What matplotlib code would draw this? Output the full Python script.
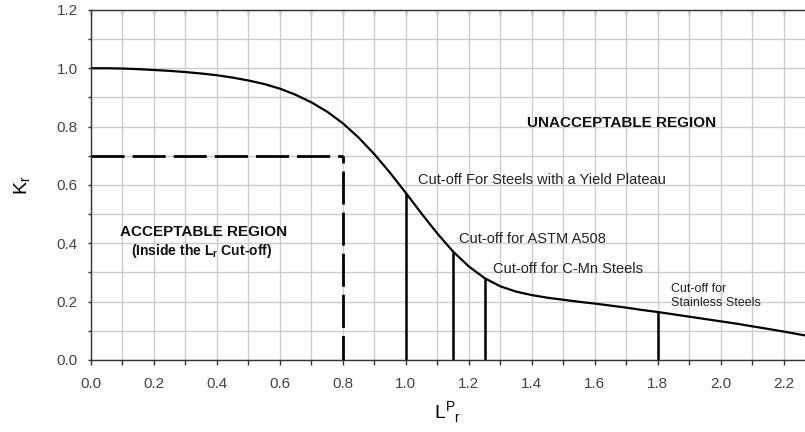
import matplotlib
matplotlib.use("Agg")
import matplotlib.pyplot as plt
from matplotlib.ticker import MultipleLocator, FormatStrFormatter

plt.rcParams['font.family'] = ['Liberation Sans', 'DejaVu Sans']

# failure assessment curve
lr = [0.00, 0.05, 0.10, 0.15, 0.20, 0.25, 0.30, 0.35, 0.40, 0.45,
      0.50, 0.55, 0.60, 0.65, 0.70, 0.75, 0.80, 0.85, 0.90, 0.95,
      1.00, 1.05, 1.10, 1.15, 1.20, 1.25, 1.30, 1.35, 1.40, 1.45,
      1.50, 1.55, 1.60, 1.65, 1.70, 1.75, 1.80, 1.85, 1.90, 1.95,
      2.00, 2.05, 2.10, 2.15, 2.20, 2.25, 2.30]
kr = [1.000, 1.000, 0.999, 0.997, 0.994, 0.991, 0.987, 0.982, 0.976, 0.968,
      0.958, 0.946, 0.930, 0.909, 0.883, 0.851, 0.811, 0.762, 0.705, 0.641,
      0.572, 0.501, 0.433, 0.371, 0.320, 0.280, 0.252, 0.234, 0.222, 0.213,
      0.206, 0.199, 0.193, 0.186, 0.179, 0.171, 0.164, 0.156, 0.148, 0.140,
      0.132, 0.124, 0.115, 0.106, 0.097, 0.087, 0.078]

# cut-off lines (Lr position, height where they meet the curve)
cutoff_lr = [1.00, 1.15, 1.25, 1.80]
cutoff_kr = [0.572, 0.371, 0.280, 0.164]

# dashed acceptance box corner
box_lr = 0.8
box_kr = 0.7

fig = plt.figure(figsize=(8.05, 4.32), dpi=100)
ax = fig.add_axes([0.113, 0.167, 0.887, 0.810])

ax.plot(lr, kr, color='black', lw=1.6)
for x, y in zip(cutoff_lr, cutoff_kr):
    ax.plot([x, x], [0, y], color='black', lw=1.8, solid_capstyle='butt')
ax.plot([0, box_lr], [box_kr, box_kr], color='black', lw=2.0,
        linestyle=(0, (11.9, 2.9)), dash_capstyle='butt')
ax.plot([box_lr, box_lr], [box_kr, 0], color='black', lw=2.0,
        linestyle=(9.4, (11.9, 2.9)), dash_capstyle='butt')

ax.set_xlim(0, 2.267)
ax.set_ylim(0, 1.2)
ax.xaxis.set_major_locator(MultipleLocator(0.2))
ax.xaxis.set_minor_locator(MultipleLocator(0.1))
ax.yaxis.set_major_locator(MultipleLocator(0.2))
ax.yaxis.set_minor_locator(MultipleLocator(0.1))
ax.xaxis.set_major_formatter(FormatStrFormatter('%.1f'))
ax.yaxis.set_major_formatter(FormatStrFormatter('%.1f'))
ax.grid(True, which='both', color='#cccccc', lw=1.0)
ax.set_axisbelow(True)

ax.spines['right'].set_visible(False)
for s in ['left', 'bottom', 'top']:
    ax.spines[s].set_color('#333333')
    ax.spines[s].set_linewidth(1.0)
ax.tick_params(axis='both', which='both', width=1, colors='#333333',
               labelsize=11, labelcolor='#444444')
ax.tick_params(axis='x', which='both', length=3.5, pad=9)
ax.tick_params(axis='y', which='both', length=2.5, pad=7)

# top spine has its ticks pointing inward
top = ax.secondary_xaxis('top')
top.xaxis.set_major_locator(MultipleLocator(0.1))
top.tick_params(direction='in', length=3.5, width=1, colors='#333333',
                labeltop=False)
top.spines['top'].set_visible(False)

ax.set_ylabel('K$_\\mathregular{r}$', fontsize=14, labelpad=17)
ax.set_xlabel('L$^\\mathregular{P}{}_\\mathregular{r}$', fontsize=14, labelpad=6)

ax.text(1.686, 0.812, 'UNACCEPTABLE REGION', fontsize=11, fontweight='bold',
        ha='center', va='center', color='#111111')
ax.text(1.038, 0.617, 'Cut-off For Steels with a Yield Plateau', fontsize=10.5,
        ha='left', va='center', color='#222222')
ax.text(0.359, 0.439, 'ACCEPTABLE REGION', fontsize=11, fontweight='bold',
        ha='center', va='center', color='#111111')
ax.text(0.352, 0.372, '(Inside the L$_\\mathregular{r}$ Cut-off)', fontsize=10,
        fontweight='bold', ha='center', va='center', color='#111111')
ax.text(1.168, 0.415, 'Cut-off for ASTM A508', fontsize=10.5,
        ha='left', va='center', color='#222222')
ax.text(1.277, 0.312, 'Cut-off for C-Mn Steels', fontsize=10.5,
        ha='left', va='center', color='#222222')
ax.text(1.841, 0.219, 'Cut-off for\nStainless Steels', fontsize=9,
        ha='left', va='center', color='#222222', linespacing=1.15)

fig.savefig('out.png', dpi=100)
